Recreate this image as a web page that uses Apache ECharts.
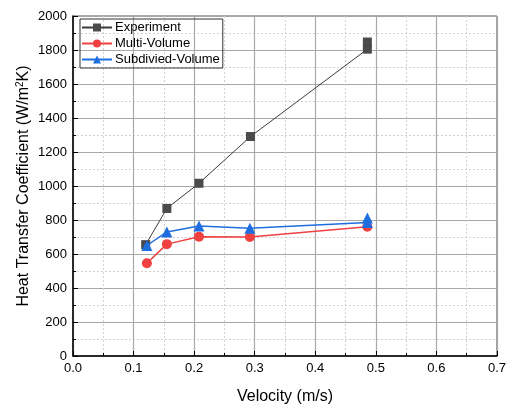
<!DOCTYPE html>
<html>
<head>
<meta charset="utf-8">
<script src="https://cdn.jsdelivr.net/npm/echarts@6/dist/echarts.min.js"></script>
<style>
  html, body { margin: 0; padding: 0; background: #fff; }
  #chart { width: 509px; height: 410px; }
</style>
</head>
<body>
<div id="chart"></div>
<script>
// Velocity (m/s) and heat transfer coefficient (W/m²K) for each series
const experimentX = [0.12, 0.155, 0.208, 0.293, 0.486, 0.486];
const experimentY = [655, 868, 1016, 1291, 1805, 1847];
const multiX = [0.122, 0.155, 0.208, 0.292, 0.486];
const multiY = [546, 658, 702, 700, 760];
const subX = [0.122, 0.155, 0.208, 0.292, 0.486, 0.486];
const subY = [650, 730, 765, 752, 785, 812];

const xTicks = ['0.0', '0.1', '0.2', '0.3', '0.4', '0.5', '0.6', '0.7'];
const yTicks = [0, 200, 400, 600, 800, 1000, 1200, 1400, 1600, 1800, 2000];

const pairs = (xs, ys) => xs.map((x, i) => [x, ys[i]]);

const chart = echarts.init(document.getElementById('chart'), null, { renderer: 'canvas' });
const font = 'Liberation Sans, Arial, sans-serif';

chart.setOption({
  animation: false,
  textStyle: { fontFamily: font },
  grid: {
    left: 73, right: 9, top: 16, bottom: 49,
    show: true, borderColor: '#555', borderWidth: 1
  },
  legend: {
    orient: 'vertical',
    left: 80, top: 19,
    itemWidth: 30, itemHeight: 10, itemGap: 3,
    padding: [2, 3, 2, 1],
    borderColor: '#333', borderWidth: 1,
    textStyle: { fontSize: 13, color: '#000', fontFamily: font, padding: [0, 0, 0, -2] },
    data: ['Experiment', 'Multi-Volume', 'Subdivied-Volume']
  },
  xAxis: {
    type: 'value', min: 0, max: 0.7, interval: 0.1,
    name: 'Velocity (m/s)', nameLocation: 'middle', nameGap: 33, nameMoveOverlap: false,
    nameTextStyle: { fontSize: 16, color: '#000', fontFamily: font },
    axisLine: { show: true, onZero: false, lineStyle: { color: '#000', width: 1.5 } },
    axisTick: { inside: true, length: 5, lineStyle: { color: '#000' } },
    minorTick: { show: true, splitNumber: 2, length: 3, lineStyle: { color: '#000' } },
    axisLabel: {
      fontSize: 13, color: '#000', margin: 6,
      formatter: (v) => xTicks[Math.round(v * 10)] ?? ''
    },
    splitLine: { show: true, lineStyle: { color: '#a8a8a8', width: 1.2 } },
    minorSplitLine: { show: true, lineStyle: { color: '#d0d0d0', type: [2, 2], width: 1 } }
  },
  yAxis: {
    type: 'value', min: 0, max: 2000, interval: 200,
    name: 'Heat Transfer Coefficient (W/m{sup|2}K)',
    nameLocation: 'middle', nameGap: 40, nameRotate: 90, nameMoveOverlap: false,
    nameTextStyle: {
      fontSize: 16, color: '#000', fontFamily: font, verticalAlign: 'bottom',
      rich: { sup: { fontSize: 10, verticalAlign: 'top', padding: [0, 0, 8, 0], color: '#000', fontFamily: font } }
    },
    axisLine: { show: true, onZero: false, lineStyle: { color: '#000', width: 1.5 } },
    axisTick: { inside: true, length: 5, lineStyle: { color: '#000' } },
    minorTick: { show: true, splitNumber: 2, length: 3, lineStyle: { color: '#000' } },
    axisLabel: {
      fontSize: 13, color: '#000', margin: 6,
      formatter: (v) => yTicks.includes(v) ? String(v) : ''
    },
    splitLine: { show: true, lineStyle: { color: '#a8a8a8', width: 1.2 } },
    minorSplitLine: { show: true, lineStyle: { color: '#d0d0d0', type: [2, 2], width: 1 } }
  },
  series: [
    {
      name: 'Experiment', type: 'line',
      data: pairs(experimentX, experimentY),
      symbol: 'rect', symbolSize: 9,
      lineStyle: { color: '#3a3a3a', width: 1 },
      itemStyle: { color: '#4a4a4a' }, z: 3
    },
    {
      name: 'Multi-Volume', type: 'line',
      data: pairs(multiX, multiY),
      symbol: 'circle', symbolSize: 10,
      lineStyle: { color: '#f04040', width: 1.5 },
      itemStyle: { color: '#f04040' }, z: 2
    },
    {
      name: 'Subdivied-Volume', type: 'line',
      data: pairs(subX, subY),
      symbol: 'triangle', symbolSize: 11,
      lineStyle: { color: '#1f6ee0', width: 1.5 },
      itemStyle: { color: '#1f6ee0' }, z: 4
    }
  ]
});
</script>
</body>
</html>
